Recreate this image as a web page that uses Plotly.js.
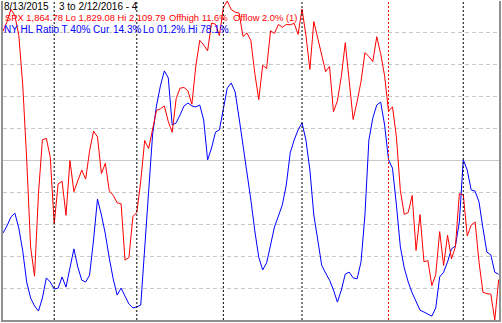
<!DOCTYPE html>
<html>
<head>
<meta charset="utf-8">
<script src="https://cdn.plot.ly/plotly-3.0.1.min.js"></script>
<style>html,body{margin:0;padding:0;background:#fff;}#chart{width:502px;height:323px;}</style>
</head>
<body>
<div id="chart"></div>
<script>
// ---- data ----
const dates = [
"8/13/2015","8/14/2015","8/17/2015","8/18/2015","8/19/2015","8/20/2015","8/21/2015","8/24/2015","8/25/2015","8/26/2015","8/27/2015","8/28/2015","8/31/2015",
"9/1/2015","9/2/2015","9/3/2015","9/4/2015","9/8/2015","9/9/2015","9/10/2015","9/11/2015","9/14/2015","9/15/2015","9/16/2015","9/17/2015","9/18/2015","9/21/2015","9/22/2015","9/23/2015","9/24/2015","9/25/2015","9/28/2015","9/29/2015","9/30/2015",
"10/1/2015","10/2/2015","10/5/2015","10/6/2015","10/7/2015","10/8/2015","10/9/2015","10/12/2015","10/13/2015","10/14/2015","10/15/2015","10/16/2015","10/19/2015","10/20/2015","10/21/2015","10/22/2015","10/23/2015","10/26/2015","10/27/2015","10/28/2015","10/29/2015","10/30/2015",
"11/2/2015","11/3/2015","11/4/2015","11/5/2015","11/6/2015","11/9/2015","11/10/2015","11/11/2015","11/12/2015","11/13/2015","11/16/2015","11/17/2015","11/18/2015","11/19/2015","11/20/2015","11/23/2015","11/24/2015","11/25/2015","11/27/2015","11/30/2015",
"12/1/2015","12/2/2015","12/3/2015","12/4/2015","12/7/2015","12/8/2015","12/9/2015","12/10/2015","12/11/2015","12/14/2015","12/15/2015","12/16/2015","12/17/2015","12/18/2015","12/21/2015","12/22/2015","12/23/2015","12/24/2015","12/28/2015","12/29/2015","12/30/2015","12/31/2015",
"1/4/2016","1/5/2016","1/6/2016","1/7/2016","1/8/2016","1/11/2016","1/12/2016","1/13/2016","1/14/2016","1/15/2016","1/19/2016","1/20/2016","1/21/2016","1/22/2016","1/25/2016","1/26/2016","1/27/2016","1/28/2016","1/29/2016",
"2/1/2016","2/2/2016","2/3/2016","2/4/2016","2/5/2016","2/8/2016","2/9/2016","2/10/2016","2/11/2016","2/12/2016"
];
const spx = [
2083.39,2091.54,2102.44,2096.92,2079.61,2035.73,1970.89,1893.21,1867.61,1940.51,1987.66,1988.87,1972.18,
1913.85,1948.86,1951.13,1921.22,1969.41,1942.04,1952.29,1961.05,1953.03,1978.09,1995.31,1990.20,1958.03,1966.97,1942.74,1938.76,1932.24,1931.34,1881.77,1884.09,1920.03,
1923.82,1951.36,1987.05,1979.92,1995.83,2013.43,2014.89,2017.46,2003.69,1994.24,2023.86,2033.11,2033.66,2030.77,2018.94,2052.51,2075.15,2071.18,2065.89,2090.35,2089.41,2079.36,
2104.05,2109.79,2102.31,2099.93,2099.20,2078.58,2081.72,2075.00,2045.97,2023.04,2053.19,2050.44,2083.58,2081.24,2089.17,2086.59,2089.14,2088.87,2090.11,2080.41,
2102.63,2079.51,2049.62,2091.69,2077.07,2063.59,2047.62,2052.23,2012.37,2021.94,2043.41,2073.07,2041.89,2005.55,2021.15,2038.97,2064.29,2060.99,2056.50,2078.36,2063.36,2043.94,
2012.66,2016.71,1990.26,1943.09,1922.03,1923.67,1938.68,1890.28,1921.84,1880.33,1881.33,1859.33,1868.99,1906.90,1877.08,1903.63,1882.95,1893.36,1940.24,
1939.38,1903.03,1912.53,1915.45,1880.05,1853.44,1852.21,1851.86,1829.08,1864.78
];
const hlRatio = [
27.3,29.5,32.3,33.5,28.8,21.6,11.9,6.9,4.4,2.8,6.9,13.2,11.9,
9.7,10.0,13.5,10.3,16.6,22.3,16.6,12.5,11.9,14.1,25.1,37.9,32.9,27.0,19.4,12.9,7.8,10.0,7.5,5.0,3.8,
4.1,4.7,21.9,40.8,58.0,67.1,73.4,78.1,75.9,61.1,61.8,64.3,67.1,68.0,67.1,66.8,67.4,62.7,50.2,53.9,58.9,59.6,
66.5,72.7,74.3,71.5,63.3,54.9,47.0,37.6,27.9,19.7,15.7,17.9,23.5,29.2,32.6,36.1,42.3,52.4,56.4,59.6,
61.8,56.4,47.0,32.9,25.1,17.2,14.7,12.5,9.4,5.6,9.4,14.4,15.0,13.2,12.9,18.2,32.9,56.4,63.3,67.4,68.3,61.1,
50.2,47.6,36.1,22.9,16.3,11.9,8.5,5.6,3.1,2.5,1.9,1.2,3.8,13.5,15.0,18.2,22.3,23.2,30.7,
50.2,47.0,40.8,40.4,37.0,28.8,21.3,20.4,15.0,14.3
];
const spxLo = 1829.08, spxHi = 2109.79;
const hlLo = 0, hlHi = 100;
const headerText = ["8/13/2015", "3 to 2/12/2016 - 4"];
const spxText = ["SPX 1,864.78 Lo 1,829.08 Hi 2,109.79", "Offhigh 11.6%", "Offlow 2.0% (1)"];
const hlText = ["NY HL Ratio T 40% Cur", "14.3%", "Lo 01.2%", "Hi 78.1%"];

// ---- layout helpers ----
const W = 502, H = 323;
const M = {l: 3, r: 3, t: 1, b: 3};
const PW = W - M.l - M.r, PH = H - M.t - M.b;
const px = x => (x - M.l) / PW;
const py = y => 1 - (y - M.t) / PH;

const idx = dates.map((d, i) => i);

// month boundaries
const shapes = [];
for (let i = 1; i < dates.length; i++) {
  const [m0, , y0] = dates[i - 1].split('/');
  const [m1, , y1] = dates[i].split('/');
  if (m0 !== m1) {
    const yearChange = y0 !== y1;
    shapes.push({type: 'line', xref: 'x', yref: 'paper', x0: i, x1: i, y0: 0, y1: 1,
      line: {color: yearChange ? '#ff0000' : '#000000', width: 1, dash: '2px,2px'}, layer: 'above'});
  }
}
// solid midline
shapes.push({type: 'line', xref: 'paper', yref: 'y', x0: 0, x1: 1, y0: 50, y1: 50,
  line: {color: '#c8c8c8', width: 1}, layer: 'below'});

const font = 'Liberation Sans, Arial, sans-serif';
// [text, left px, centre y px, colour, size]
const textSpecs = [
  [headerText[0], 4, 7, '#000000', 10],
  [headerText[1], 59, 7, '#000000', 10],
  [spxText[0], 5, 18, '#ff0000', 9.4],
  [spxText[1], 169, 18, '#ff0000', 9.4],
  [spxText[2], 233, 18, '#ff0000', 9.4],
  [hlText[0], 4, 29.5, '#0000ff', 10],
  [hlText[1], 113, 29.5, '#0000ff', 10],
  [hlText[2], 143, 29.5, '#0000ff', 10],
  [hlText[3], 188, 29.5, '#0000ff', 10]
];
const annotations = textSpecs.map(s => ({
  text: s[0], xref: 'paper', yref: 'paper', x: px(s[1]), y: py(s[2]),
  xanchor: 'left', yanchor: 'middle', align: 'left', showarrow: false,
  font: {family: font, size: s[4], color: s[3]}, borderpad: 0, borderwidth: 0
}));

const traces = [
  {x: idx, y: hlRatio, type: 'scatter', mode: 'lines', yaxis: 'y',
   line: {color: '#0000ff', width: 1}, hoverinfo: 'skip'},
  {x: idx, y: spx, type: 'scatter', mode: 'lines', yaxis: 'y2',
   line: {color: '#ff0000', width: 1}, hoverinfo: 'skip'}
];

const layout = {
  width: W, height: H,
  margin: M,
  paper_bgcolor: '#ffffff', plot_bgcolor: '#ffffff',
  showlegend: false,
  xaxis: {range: [-0.02, dates.length - 1 + 0.08], showgrid: false, zeroline: false, showticklabels: false,
    ticks: '', showline: true, linecolor: '#909090', linewidth: 2, fixedrange: true},
  yaxis: {range: [hlLo, hlHi], dtick: 10, tick0: 0, showgrid: true, gridcolor: '#c8c8c8', griddash: '4px,3px',
    gridwidth: 1, zeroline: false, showticklabels: false, ticks: '', showline: true, linecolor: '#909090', linewidth: 2},
  yaxis2: {range: [spxLo, spxHi], overlaying: 'y', side: 'right', showgrid: false, zeroline: false,
    showticklabels: false, ticks: '', showline: true, linecolor: '#909090', linewidth: 2},
  shapes: shapes,
  annotations: annotations
};

Plotly.newPlot('chart', traces, layout, {staticPlot: true, displayModeBar: false});
</script>
</body>
</html>
